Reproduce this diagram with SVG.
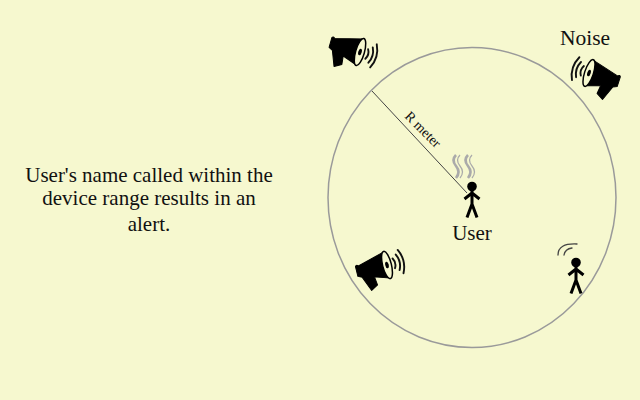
<svg xmlns="http://www.w3.org/2000/svg" width="640" height="400" viewBox="0 0 640 400">
<style>
text{font-family:"Liberation Serif",serif;fill:#111}
.lbl{font-size:21px;text-anchor:middle}
.wave{fill:none;stroke:#111;stroke-width:1.9;stroke-linecap:round}
.heat{fill:none;stroke:#aaa;stroke-width:2.6}
.limb{fill:none;stroke:#000;stroke-width:3}
</style>
<defs>
<g id="horn">
<path d="M-31-6Q-30-8-28-6L0-13.5L0 13.5L-15 8.5L-14 17L-21 21L-27 6L-31 4Z" fill="#000" stroke="#000" stroke-linejoin="round"/>
<ellipse cx="0" cy="0" rx="4.4" ry="14" fill="#f6f8cf" stroke="#000" stroke-width="1.5"/>
<ellipse cx="0" cy="0" rx="1.7" ry="3.4" fill="#000"/>
<path class="wave" d="M7-5Q10 0 7 5M11-8Q15 0 11 8M14-12Q20 0 14 12"/>
</g>
<g id="person">
<circle cx="0" cy="-11.5" r="4.8" fill="#000"/>
<path class="limb" d="M-7.5 1L0-5L7.5 1M0-8V6L-5 19.5M0 6L5 19.5"/>
</g>
</defs>
<rect width="640" height="400" fill="#f6f8cf"/>
<g id="connectors">
<ellipse cx="472" cy="197.5" rx="144" ry="150" fill="none" stroke="#9a9a9a" stroke-width="1.5"/>
<line x1="372" y1="91" x2="467" y2="193" stroke="#444" stroke-width="1"/>
</g>
<g id="caption"><text class="lbl" x="149" y="182">User's name called within the</text><text class="lbl" x="149" y="205">device range results in an</text><text class="lbl" x="149" y="231">alert.</text></g>
<g id="range-label"><text transform="translate(404 117) rotate(45)" font-size="14">R meter</text></g>
<g id="noise-top-left"><use href="#horn" transform="translate(360 52) rotate(16)"/></g>
<g id="noise-top-right"><use href="#horn" transform="translate(589 73) scale(-1 1) rotate(-18)"/><text class="lbl" x="585" y="45" style="font-size:21.5px">Noise</text></g>
<g id="noise-bottom-left"><use href="#horn" transform="translate(387 265) rotate(-14)"/></g>
<g id="user"><path class="heat" d="M456 155Q451 160 456 166Q461 172 456 178M468 155Q463 160 468 166Q473 172 468 178"/><path class="heat" d="M460 155Q455 160 460 166Q465 172 460 178M472 155Q467 160 472 166Q477 172 472 178" style="stroke-width:1.2"/><use href="#person" transform="translate(472 198)"/><text class="lbl" x="472" y="240">User</text></g>
<g id="other-person"><path class="wave" style="stroke:#444;stroke-width:1.3" d="M558 255Q558 243 577 244M564 255Q565 249 572 248"/><use href="#person" transform="translate(576 274)"/></g>
</svg>
